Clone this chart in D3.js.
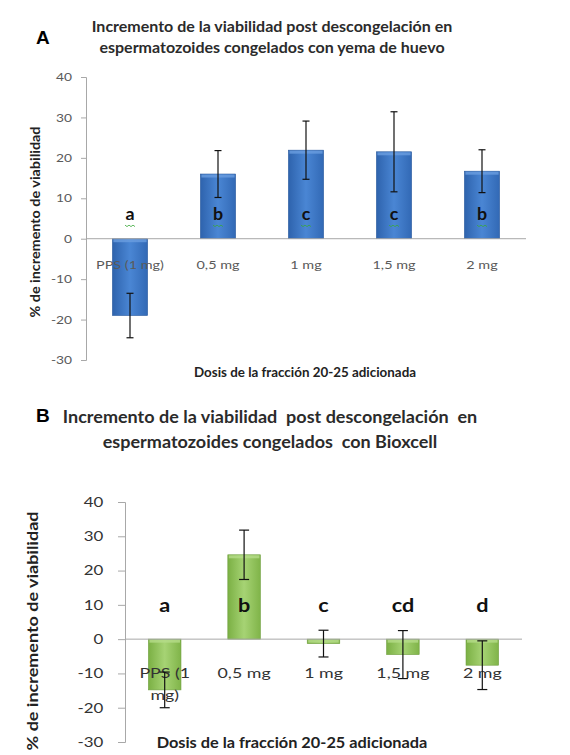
<!DOCTYPE html>
<html>
<head>
<meta charset="utf-8">
<script src="https://cdn.jsdelivr.net/npm/d3@7"></script>
<style>
  body { margin: 0; background: #fff; }
  svg { display: block; font-family: Lato, "Open Sans", sans-serif; }
</style>
</head>
<body>
<svg id="chart" width="570" height="755"></svg>
<script>
// dosis
const categories = ["PPS (1 mg)", "0,5 mg", "1 mg", "1,5 mg", "2 mg"];
const yTicks = [-30, -20, -10, 0, 10, 20, 30, 40];

// A: yema de huevo
const yemaValues = [-19.0, 16.0, 21.9, 21.5, 16.7];
const yemaErrors = [5.5, 5.8, 7.2, 9.9, 5.3];
const yemaLetters = ["a", "b", "c", "c", "b"];

// B: Bioxcell
const bioxValues = [-14.8, 24.6, -1.3, -4.5, -7.6];
const bioxErrors = [5.2, 7.2, 3.9, 7.0, 7.1];
const bioxLetters = ["a", "b", "c", "cd", "d"];

const svg = d3.select("#chart");
const defs = svg.append("defs");

function gradient(id, dark, mid, light) {
    const g = defs.append("linearGradient").attr("id", id)
        .attr("x1", 0).attr("x2", 1).attr("y1", 0).attr("y2", 0);
    g.append("stop").attr("offset", "0%").attr("stop-color", dark);
    g.append("stop").attr("offset", "50%").attr("stop-color", light);
    g.append("stop").attr("offset", "100%").attr("stop-color", mid);
}
gradient("blueGrad", "#2e63ad", "#3269b5", "#4a86d4");
gradient("greenGrad", "#7bb044", "#80b449", "#a6d374");

// the picture's text is a bit wider than Lato, so stretch it sideways
function label(g, x, y, sx, rot) {
    return g.append("text")
        .attr("transform", `translate(${x},${y})` + (rot ? ` rotate(${rot})` : "") + ` scale(${sx},1)`)
        .attr("text-anchor", "middle")
        .style("white-space", "pre");
}

function drawChart(opt) {
    const x = d3.scaleBand().domain(categories)
        .range([opt.left, opt.right]).paddingInner(opt.pad).paddingOuter(opt.pad / 2);
    const y = d3.scaleLinear().domain([-30, 40]).range([opt.bottom, opt.top]);
    const g = svg.append("g");

    // y axis
    const yAxis = g.append("g")
        .attr("transform", `translate(${opt.left},0)`)
        .call(d3.axisLeft(y).tickValues(yTicks).tickFormat(d => String(d))
            .tickSize(opt.tickLen).tickPadding(opt.tickPad / opt.tickSx));
    yAxis.select(".domain").attr("stroke", "#a8a8a8");
    yAxis.selectAll(".tick line").attr("stroke", "#a8a8a8");
    yAxis.selectAll(".tick text")
        .attr("transform", `scale(${opt.tickSx},1)`)
        .attr("fill", opt.tickColor)
        .style("font-size", opt.tickSize + "px")
        .style("font-family", "Lato, sans-serif");

    // bars
    g.selectAll(".bar").data(opt.values).enter()
        .append("rect")
        .attr("x", (d, i) => x(categories[i]))
        .attr("y", d => y(Math.max(0, d)))
        .attr("width", x.bandwidth())
        .attr("height", d => Math.abs(y(d) - y(0)))
        .attr("fill", `url(#${opt.grad})`)
        .attr("stroke", opt.edge)
        .attr("stroke-width", 0.6);

    // lighter top bevel on the bars
    g.selectAll(".bevel").data(opt.values).enter()
        .append("rect")
        .attr("x", (d, i) => x(categories[i]) + 1)
        .attr("y", d => d >= 0 ? y(d) + 0.5 : y(0) + 0.5)
        .attr("width", x.bandwidth() - 2)
        .attr("height", 3)
        .attr("fill", opt.bevel)
        .attr("opacity", 0.8);

    // zero line
    g.append("line")
        .attr("x1", opt.left).attr("x2", opt.right)
        .attr("y1", y(0)).attr("y2", y(0))
        .attr("stroke", "#a8a8a8").attr("stroke-width", 1);

    // category labels
    const cx = i => x(categories[i]) + x.bandwidth() / 2;
    categories.forEach((d, i) => {
        const t = label(g, cx(i), opt.catY, opt.catSx)
            .attr("fill", opt.catColor)
            .style("font-size", opt.catSize + "px");
        const lines = (opt.wrapFirst && i === 0) ? ["PPS (1", "mg)"] : [d];
        lines.forEach((s, k) => {
            t.append("tspan").attr("x", 0).attr("dy", k === 0 ? 0 : opt.catSize * 1.6).text(s);
        });
    });

    // error bars
    opt.values.forEach((v, i) => {
        const e = opt.errors[i];
        const eg = g.append("g").attr("stroke", "#111").attr("stroke-width", 1.2);
        eg.append("line").attr("x1", cx(i)).attr("x2", cx(i)).attr("y1", y(v + e)).attr("y2", y(v - e));
        eg.append("line").attr("x1", cx(i) - opt.cap).attr("x2", cx(i) + opt.cap).attr("y1", y(v + e)).attr("y2", y(v + e));
        eg.append("line").attr("x1", cx(i) - opt.cap).attr("x2", cx(i) + opt.cap).attr("y1", y(v - e)).attr("y2", y(v - e));
    });

    // significance letters
    opt.letters.forEach((d, i) => {
        label(g, cx(i), y(opt.letterAt), opt.letterSx)
            .attr("fill", "#111")
            .style("font-weight", "bold")
            .style("font-size", opt.letterSize + "px")
            .text(d);
    });

    if (opt.squiggle) {
        opt.letters.forEach((d, i) => {
            const x0 = cx(i) - 5, y0 = y(opt.letterAt) + 5;
            let p = `M${x0},${y0}`;
            for (let k = 1; k <= 5; k++) p += ` L${x0 + k * 2},${y0 + (k % 2 ? 1.5 : 0)}`;
            g.append("path").attr("d", p).attr("fill", "none")
                .attr("stroke", "#3aa83a").attr("stroke-width", 0.8);
        });
    }

    // titles
    opt.title.forEach((s, k) => {
        label(g, opt.titleX, opt.titleY + k * opt.titleGap, opt.titleSx)
            .attr("fill", "#2b2b2b")
            .style("font-weight", "bold").style("font-size", opt.titleSize + "px")
            .text(s);
    });
    g.append("text")
        .attr("x", opt.panelX).attr("y", opt.panelY)
        .attr("fill", "#000")
        .style("font-weight", "bold").style("font-size", "19px")
        .style("font-family", "'Liberation Sans', Arial, sans-serif")
        .text(opt.panel);

    label(g, opt.xTitleX, opt.xTitleY, opt.axisSx)
        .attr("fill", "#222")
        .style("font-weight", "bold").style("font-size", opt.axisSize + "px")
        .text("Dosis de la fracción 20-25 adicionada");

    label(g, opt.yTitleX, opt.yTitleY, opt.yAxisSx, -90)
        .attr("fill", "#222")
        .style("font-weight", "bold").style("font-size", opt.yAxisSize + "px")
        .text("% de incremento de viabilidad");
}

drawChart({
    values: yemaValues, errors: yemaErrors, letters: yemaLetters,
    left: 86, right: 526, top: 77, bottom: 360, pad: 0.6,
    grad: "blueGrad", edge: "#2a5a9e", bevel: "#6a9ee0",
    tickColor: "#5a5a5a", tickSize: 11.5, tickSx: 1.2, tickPad: 8, tickLen: 5,
    catY: 269, catColor: "#5a5a5a", catSize: 12, catSx: 1.2, wrapFirst: false,
    cap: 3.5, letterAt: 4.6, letterSize: 17, letterSx: 1.05, squiggle: true,
    title: ["Incremento de la viabilidad post descongelación en",
            "espermatozoides congelados con yema de huevo"],
    titleX: 272, titleY: 32, titleGap: 21, titleSize: 16, titleSx: 1,
    panel: "A", panelX: 36, panelY: 44,
    xTitleX: 305, xTitleY: 377, axisSize: 13, axisSx: 1.03,
    yTitleX: 40, yTitleY: 222, yAxisSize: 12.5, yAxisSx: 1.15
});

drawChart({
    values: bioxValues, errors: bioxErrors, letters: bioxLetters,
    left: 125, right: 522, top: 502, bottom: 742, pad: 0.59,
    grad: "greenGrad", edge: "#6e9e3c", bevel: "#b5dc8a",
    tickColor: "#333", tickSize: 13.5, tickSx: 1.25, tickPad: 13, tickLen: 7,
    catY: 678, catColor: "#333", catSize: 14, catSx: 1.27, wrapFirst: true,
    cap: 5, letterAt: 7.8, letterSize: 18, letterSx: 1.2, squiggle: false,
    title: ["Incremento de la viabilidad  post descongelación  en",
            "espermatozoides congelados  con Bioxcell"],
    titleX: 270, titleY: 423, titleGap: 25, titleSize: 17, titleSx: 1.06,
    panel: "B", panelX: 36, panelY: 422,
    xTitleX: 292, xTitleY: 748, axisSize: 16, axisSx: 1.02,
    yTitleX: 38, yTitleY: 631, yAxisSize: 15, yAxisSx: 1.2
});
</script>
</body>
</html>
